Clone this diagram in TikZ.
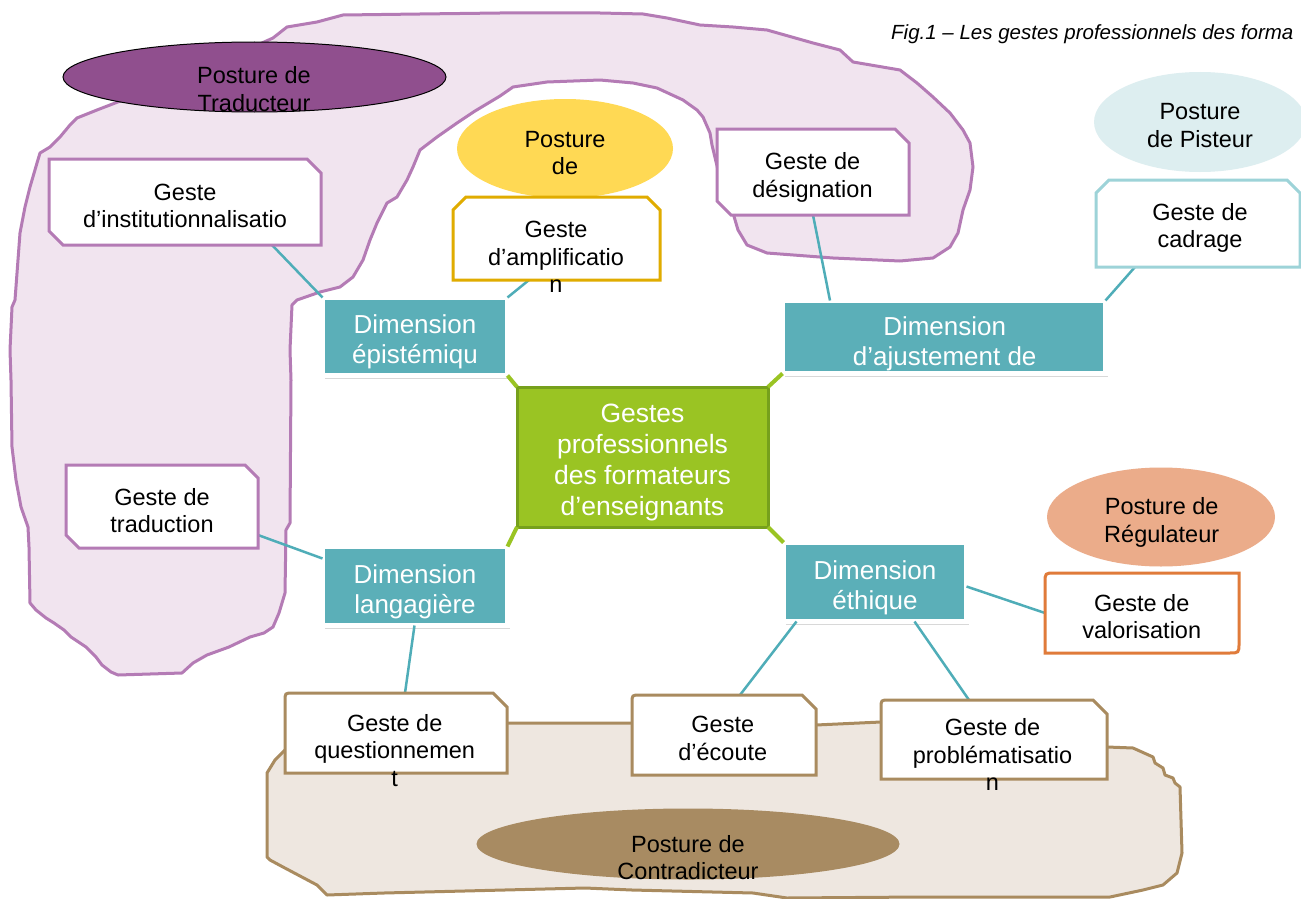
\documentclass[tikz,border=0pt]{standalone}
\usepackage{fontspec}
\setmainfont{Liberation Sans}
\usetikzlibrary{shapes.geometric,shadows,calc}
\definecolor{pfill}{HTML}{F1E4EF}
\definecolor{pline}{HTML}{B47BB5}
\definecolor{tradfill}{HTML}{904F8E}
\definecolor{yelfill}{HTML}{FFD954}
\definecolor{ampline}{HTML}{E0AC00}
\definecolor{dimteal}{HTML}{5BAFB8}
\definecolor{connteal}{HTML}{4FADB8}
\definecolor{greenfill}{HTML}{9AC423}
\definecolor{greenline}{HTML}{76A01C}
\definecolor{pistfill}{HTML}{DDEEF0}
\definecolor{cadline}{HTML}{9DD3D8}
\definecolor{regfill}{HTML}{EBAC8A}
\definecolor{valline}{HTML}{E07B3A}
\definecolor{bfill}{HTML}{EEE7E0}
\definecolor{bline}{HTML}{A98B5F}
\definecolor{contrafill}{HTML}{A88B62}
\newcommand\gestefont{\fontsize{23.5pt}{27.5pt}\selectfont}
\newcommand\dimfont{\fontsize{26pt}{30pt}\selectfont}
\newcommand\corefont{\fontsize{26.5pt}{31pt}\selectfont}
\newcommand\capfont{\fontsize{20.5pt}{24pt}\selectfont\itshape}
% chamfer north east + south west
\newcommand\chamNESW[3]{\path[#2] (#1.north west) -- ([xshift=-#3]#1.north east) -- ([yshift=-#3]#1.north east) -- (#1.south east) -- ([xshift=#3]#1.south west) -- ([yshift=#3]#1.south west) -- cycle;}
% chamfer north west + north east
\newcommand\chamTop[3]{\path[#2] (#1.south west) -- ([yshift=-#3]#1.north west) -- ([xshift=#3]#1.north west) -- ([xshift=-#3]#1.north east) -- ([yshift=-#3]#1.north east) -- (#1.south east) -- cycle;}
% round north west + chamfer north east
\newcommand\roundSnip[2]{\path[#2] (#1.south west) -- ([yshift=-8pt]#1.north west) .. controls (#1.north west) .. ([xshift=8pt]#1.north west) -- ([xshift=-14pt]#1.north east) -- ([yshift=-14pt]#1.north east) -- (#1.south east) -- cycle;}
\begin{document}
\begin{tikzpicture}[x=1pt,y=-1pt,
  anch/.style={rectangle, inner sep=0pt, outer sep=0pt, draw=none, fill=none},
  gtxt/.style={align=center, inner sep=0pt, font=\gestefont, text=black},
  dimbox/.style={rectangle, inner sep=0pt, outer sep=0pt, fill=dimteal, draw=white, line width=5pt,
     drop shadow={opacity=0.3, shadow xshift=2pt, shadow yshift=-3pt}},
  dtxt/.style={align=center, inner sep=0pt, font=\dimfont, text=white},
  conn/.style={draw=connteal, line width=2.5pt},
  gconn/.style={draw=greenfill, line width=4pt},
  pbox/.style={draw=pline, line width=3pt, fill=white},
  abox/.style={draw=ampline, line width=3pt, fill=white},
  cbox/.style={draw=cadline, line width=3pt, fill=white},
  bbox/.style={draw=bline, line width=3pt, fill=white},
  vbox/.style={draw=valline, line width=3pt, fill=white},
  post/.style={ellipse, inner sep=0pt, outer sep=0pt},
]
\useasboundingbox[fill=white] (0,0) rectangle (1301,899);

% ---- purple blob (Traducteur)
\path[fill=pfill, draw=pline, line width=3pt, line join=round]
 (343,15) -- (420,14) -- (500,13) -- (600,13) -- (643,14) -- (667,18) -- (700,25) -- (733,27) -- (767,30)
 -- (813,43) -- (840,50) -- (853,62) -- (900,70) -- (917,83) -- (933,97) -- (950,113) -- (963,130)
 -- (970,143) -- (973,167) -- (970,190) -- (963,210) -- (958,233) -- (950,247) -- (933,258) -- (900,261)
 -- (833,258) -- (767,253) -- (747,245) -- (738,230) -- (733,213) -- (726,195) -- (718,170) -- (712,145)
 -- (710,133) -- (703,117) -- (697,110) -- (683,100) -- (657,88) -- (633,83) -- (600,80) -- (547,82)
 -- (513,87) -- (500,96) -- (475,111) -- (457,123) -- (437,137) -- (420,150) -- (413,167) -- (407,180)
 -- (397,197) -- (387,203) -- (377,223) -- (370,240) -- (363,260) -- (353,277) -- (340,287) -- (320,292)
 -- (297,300) -- (292,305) -- (290,350) -- (291,380) -- (290,523) -- (286,530) -- (285,593) -- (279,613)
 -- (273,627) -- (264,633) -- (250,637) -- (229,647) -- (207,655) -- (193,663) -- (182,673) -- (118,675)
 -- (111,672) -- (102,665) -- (96,657) -- (86,647) -- (71,637) -- (64,630) -- (54,623) -- (46,618)
 -- (36,610) -- (30,603) -- (29,547) -- (28,527) -- (21,507) -- (16,480) -- (12,447) -- (11,380)
 -- (10,350) -- (12,307) -- (15,300) -- (20,233) -- (25,207) -- (30,187) -- (37,163) -- (40,153)
 -- (50,147) -- (60,137) -- (70,125) -- (77,118) -- (97,110) -- (123,100) -- (180,80) -- (273,38)
 -- (287,27) -- (317,22) -- cycle;

% ---- brown blob (Contradicteur)
\path[fill=bfill, draw=bline, line width=3pt, line join=round]
 (285,750) -- (275,760) -- (267,773) -- (267,857) -- (270,860) -- (283,867) -- (317,885) -- (327,895)
 -- (384,893) -- (585,888) -- (632,890) -- (753,893) -- (787,898) -- (921,897) -- (1110,897)
 -- (1143,890) -- (1163,885) -- (1177,873) -- (1182,853) -- (1180,787) -- (1175,783) -- (1173,778)
 -- (1165,775) -- (1163,768) -- (1155,763) -- (1153,757) -- (1133,748) -- (1107,747) -- (1000,738)
 -- (881,722) -- (816,725) -- (700,725) -- (632,723) -- (507,723) -- (400,725) -- (290,740) -- cycle;

% ---- postures (ellipses)
\node[post, fill=tradfill, draw=black, line width=1pt, minimum width=383pt, minimum height=70pt] (ptrad) at (254.5,77) {};
\node[post, fill=yelfill, minimum width=216pt, minimum height=99pt] (pyel) at (565,148.5) {};
\node[post, fill=pistfill, minimum width=212pt, minimum height=100pt] (ppist) at (1200,122) {};
\node[post, fill=regfill, minimum width=228pt, minimum height=99pt] (preg) at (1161,517) {};
\node[post, fill=contrafill, minimum width=423pt, minimum height=71pt] (pcontra) at (688,844) {};

% ---- caption
\node[anchor=base west, inner sep=0pt, font=\capfont] (cap) at (891,39.5) {Fig.1 – Les gestes professionnels des forma};

% ---- anchor rectangles for the geste boxes
\node[anch, minimum width=272pt, minimum height=86pt] (inst) at (185,202) {};
\node[anch, minimum width=207pt, minimum height=83pt] (ampl) at (556.5,238.5) {};
\node[anch, minimum width=192pt, minimum height=86pt] (desig) at (813,172) {};
\node[anch, minimum width=204pt, minimum height=87pt] (cad) at (1198,223.5) {};
\node[anch, minimum width=192pt, minimum height=83pt] (trad) at (162,506.5) {};
\node[anch, minimum width=194pt, minimum height=80pt] (val) at (1142,613) {};
\node[anch, minimum width=222pt, minimum height=80pt] (quest) at (396,733) {};
\node[anch, minimum width=184pt, minimum height=80pt] (ecoute) at (724,735) {};
\node[anch, minimum width=226pt, minimum height=79pt] (prob) at (994,739.5) {};

% ---- dimension boxes and centre
\node[dimbox, minimum width=185pt, minimum height=78pt] (epi) at (415,336.5) {};
\node[dimbox, minimum width=323pt, minimum height=73pt] (ajust) at (944,337) {};
\node[dimbox, minimum width=185pt, minimum height=79pt] (lang) at (415,586) {};
\node[dimbox, minimum width=183pt, minimum height=79pt] (eth) at (875,582) {};
\node[rectangle, inner sep=0pt, outer sep=0pt, fill=greenfill, draw=greenline, line width=3pt,
      minimum width=251pt, minimum height=140pt] (core) at (642.5,457) {};

% ---- connectors
\draw[conn] ([xshift=223pt]inst.south west) -- (epi.north west);
\draw[conn] ([xshift=76pt]ampl.south west) -- (epi.north east);
\draw[conn] ([xshift=96pt]desig.south west) -- ([xshift=47.5pt]ajust.north west);
\draw[conn] ([xshift=39pt]cad.south west) -- (ajust.north east);
\draw[conn] ([yshift=13pt]trad.south east) -- ([yshift=-12pt]lang.north west);
\draw[conn] ([xshift=92pt]lang.south west) -- ([xshift=120pt]quest.north west);
\draw[conn] ([yshift=-44pt]eth.north east) -- ([yshift=-40pt]val.north west);
\draw[conn] ([xshift=13pt]eth.south west) -- ([xshift=108pt]ecoute.north west);
\draw[conn] ([xshift=131pt]eth.south west) -- ([xshift=88pt]prob.north west);
\draw[gconn] (core.north west) -- (epi.south east);
\draw[gconn] (core.north east) -- (ajust.south west);
\draw[gconn] (core.south west) -- (lang.north east);
\draw[gconn] (core.south east) -- (eth.north west);

% ---- geste box outlines
\chamNESW{inst}{pbox}{14pt}
\chamNESW{desig}{pbox}{14pt}
\chamNESW{trad}{pbox}{13pt}
\chamTop{ampl}{abox}{13pt}
\chamTop{cad}{cbox}{13pt}
\roundSnip{quest}{bbox}
\roundSnip{ecoute}{bbox}
\roundSnip{prob}{bbox}
\path[vbox] ([yshift=-10pt]val.north west) .. controls (val.north west) .. ([xshift=10pt]val.north west)
  -- (val.north east) -- ([yshift=10pt]val.south east) .. controls (val.south east) .. ([xshift=-10pt]val.south east)
  -- (val.south west) -- cycle;

% ---- texts
\node[gtxt] (ptradT) at (254,92) {\strut Posture de\\\strut Traducteur};
\node[gtxt] (pyelT) at (565,155.5) {\strut Posture\\\strut de};
\node[gtxt] (ppistT) at (1200,127.8) {\strut Posture\\\strut de Pisteur};
\node[gtxt] (pregT) at (1161.7,522.8) {\strut Posture de\\\strut Régulateur};
\node[gtxt] (pcontraT) at (688,860.3) {\strut Posture de\\\strut Contradicteur};

\node[gtxt] (instT) at (185,208.5) {\strut Geste\\\strut d’institutionnalisatio};
\node[gtxt] (amplT) at (556,259.5) {\strut Geste\\\strut d’amplificatio\\\strut n};
\node[gtxt] (desigT) at (812.5,178) {\strut Geste de\\\strut désignation};
\node[gtxt] (cadT) at (1200,228.7) {\strut Geste de\\\strut cadrage};
\node[gtxt] (tradT) at (162,513.5) {\strut Geste de\\\strut traduction};
\node[gtxt] (valT) at (1141.7,619.5) {\strut Geste de\\\strut valorisation};
\node[gtxt] (questT) at (394.7,753.2) {\strut Geste de\\\strut questionnemen\\\strut t};
\node[gtxt] (ecouteT) at (722.8,740.8) {\strut Geste\\\strut d’écoute};
\node[gtxt] (probT) at (992.5,757.8) {\strut Geste de\\\strut problématisatio\\\strut n};

\node[dtxt] (epiT) at (415,342) {\strut Dimension\\\strut épistémiqu};
\begin{scope}
  \clip ([shift={(2.5pt,-2.5pt)}]ajust.north west) rectangle ([shift={(-2.5pt,2.5pt)}]ajust.south east);
  \node[dtxt] (ajustT) at (944.7,344) {\strut Dimension\\\strut d’ajustement de};
\end{scope}
\node[dtxt] (langT) at (415,592) {\strut Dimension\\\strut langagière};
\node[dtxt] (ethT) at (875,588) {\strut Dimension\\\strut éthique};
\node[align=center, inner sep=0pt, font=\corefont, text=white] (coreT) at (642.5,462.8)
  {\strut Gestes\\\strut professionnels\\\strut des formateurs\\\strut d’enseignants};
\end{tikzpicture}
\end{document}
